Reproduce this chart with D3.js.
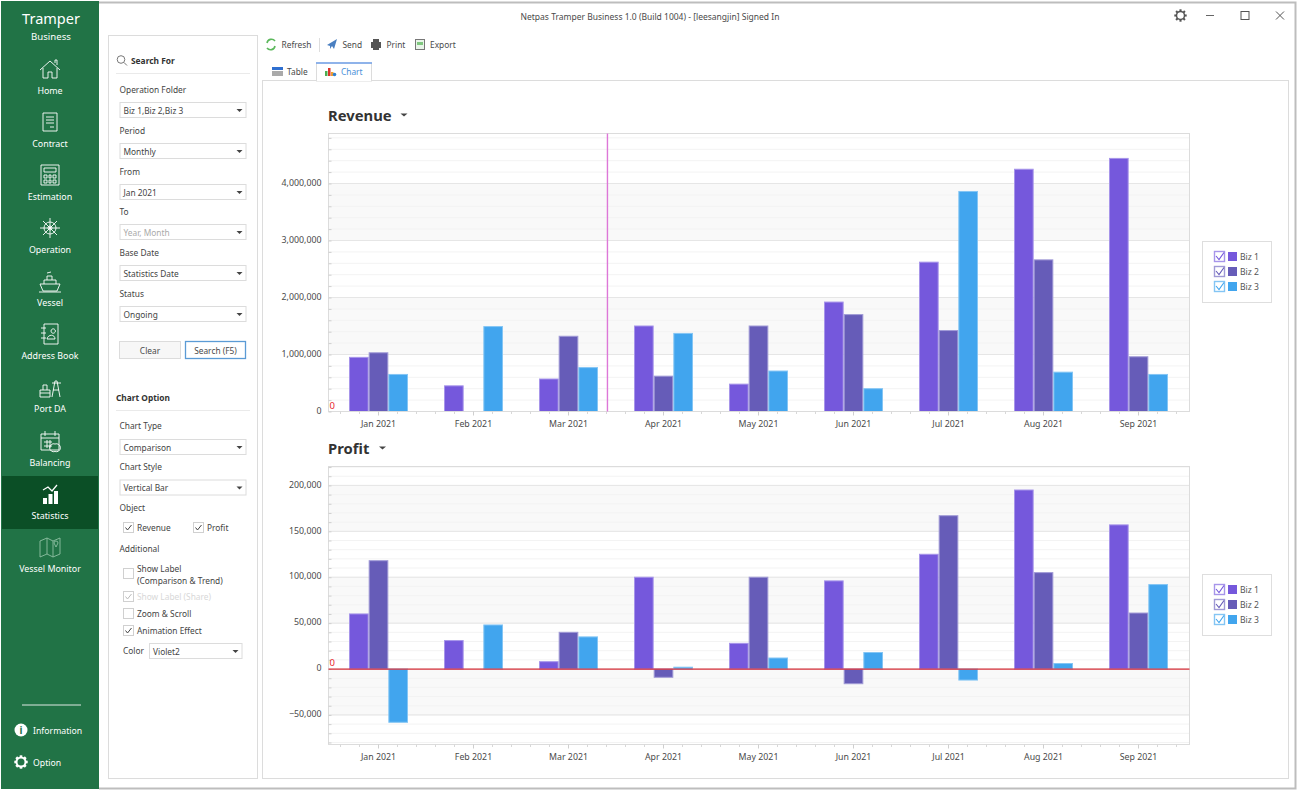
<!DOCTYPE html>
<html><head><meta charset="utf-8">
<style>
html,body{margin:0;padding:0;background:#fff;overflow:hidden}
svg{display:block}
text{font-family:"Noto Sans",sans-serif;font-size:8.35px;fill:#4a4a4a}
</style>
<script src="https://cdn.jsdelivr.net/npm/d3@7/dist/d3.min.js"></script>
</head><body><svg id="app" width="1298" height="791"></svg>
<script>
const categories=["Jan 2021","Feb 2021","Mar 2021","Apr 2021","May 2021","Jun 2021","Jul 2021","Aug 2021","Sep 2021"];
const seriesNames=["Biz 1","Biz 2","Biz 3"];
const revenueBiz1=[950000,450000,570000,1500000,480000,1920000,2620000,4250000,4440000];
const revenueBiz2=[1030000,0,1320000,620000,1500000,1700000,1420000,2660000,960000];
const revenueBiz3=[650000,1490000,770000,1370000,710000,400000,3860000,690000,650000];
const profitBiz1=[60000,31000,8000,100000,28000,96000,125000,195000,157000];
const profitBiz2=[118000,0,40000,-9000,100000,-16000,167000,105000,61000];
const profitBiz3=[-58000,48000,35000,2000,12000,18000,-12000,6000,92000];
const revenueMajorTicks=[0,1000000,2000000,3000000,4000000];
const profitMajorTicks=[-50000,0,50000,100000,150000,200000];
const navItems=["Home","Contract","Estimation","Operation","Vessel","Address Book","Port DA","Balancing","Statistics","Vessel Monitor"];
const searchFields=[["Operation Folder","Biz 1,Biz 2,Biz 3"],["Period","Monthly"],["From","Jan 2021"],["To","Year, Month"],["Base Date","Statistics Date"],["Status","Ongoing"]];
const optionFields=[["Chart Type","Comparison"],["Chart Style","Vertical Bar"]];
const colors=["#7558dc","#665cb8","#41a5ee"];
const strokes=["#a795ea","#a09ad6","#84c5f4"];

const svg=d3.select("#app");
const T=(g,x,y,s,o={})=>{const t=g.append("text").attr("x",x).attr("y",y).text(s);
  for(const k in o)t.style(k,o[k]);return t;};
const R=(g,x,y,w,h,f,st)=>g.append("rect").attr("x",x).attr("y",y).attr("width",w).attr("height",h).attr("fill",f||"none").attr("stroke",st||"none");

/* window frame */
svg.append("path").attr("d","M99 2.5H1295.5V788.5H99").attr("fill","none").attr("stroke","#bdbdbd").attr("stroke-width",2);
T(svg,650,20,"Netpas Tramper Business 1.0 (Build 1004) - [leesangjin] Signed In",{"text-anchor":"middle","font-size":"8.5px"});
const gear=(g,cx,cy,r,col,sw)=>{
  const a=d3.range(8).map(i=>i*Math.PI/4);
  g.append("circle").attr("cx",cx).attr("cy",cy).attr("r",r).attr("fill","none").attr("stroke",col).attr("stroke-width",sw);
  a.forEach(t=>g.append("line").attr("x1",cx+Math.cos(t)*r).attr("y1",cy+Math.sin(t)*r).attr("x2",cx+Math.cos(t)*(r+2.2)).attr("y2",cy+Math.sin(t)*(r+2.2)).attr("stroke",col).attr("stroke-width",sw+.6));
};
gear(svg,1180.5,15.5,4,"#555",1.5);
svg.append("path").attr("d","M1206 15.5H1214").attr("stroke","#666");
R(svg,1241,11.5,8,8,"none","#555");
svg.append("path").attr("d","M1276 11.5l8 8M1284 11.5l-8 8").attr("stroke","#555");

/* sidebar */
const side=svg.append("g");
R(side,1,1,98,788,"#217346");
R(side,2,476,96,53,"#0b4f26");
T(side,51,24,"Tramper",{"text-anchor":"middle","font-size":"14.5px",fill:"#fff"});
T(side,51,40,"Business",{"text-anchor":"middle","font-size":"9.6px",fill:"#fff"});
const iconPaths=[
 "M-10 1L0-8 10 1M-7-1V9H-2V3H2V9H7V-1M5-6V-9H7V-4",
 "M-7-9H7V9H-7ZM-4-5H4M-4-2H4M-4 1H4M0 5H4",
 "M-9-10H9V10H-9ZM-6-7H6V-3H-6ZM-6 0H-3V3H-6ZM-1 0H1V3H-1ZM3 0H6V3H3ZM-6 5H-3V8H-6ZM-1 5H1V8H-1ZM3 5H6V8H3Z",
 "M0-6A6 6 0 1 1 0 6A6 6 0 1 1 0-6ZM0-2A2 2 0 1 1 0 2A2 2 0 1 1 0-2ZM0-10V10M-10 0H10M-7-7L7 7M7-7L-7 7",
 "M-10 3H10L7 10H-7ZM-6 3V-1H6V3M-3-1V-5H2V-1M-3-8L1-9M-11 11H11",
 "M-6-10H8V10H-6ZM-9-6H-4M-9-1H-4M-9 4H-4M1-3A2.2 2.2 0 1 1 1-2.9ZM-3 5C-2 0 5 0 5 5Z",
 "M-10 10H0V3H-10ZM-7 3V-2H-3V3M2 10L5-6H7L10 10M3 3H9M2-4H11M-10 6H0",
 "M-9-7H9V9H-9ZM-9-3H9M-5-10V-5M5-10V-5M-6 1H2M-6 5H2M-3-1V7M0-1V7M5 3A4 4 0 1 1 5 10.5A4 4 0 1 1 5 3",
 null,
 "M-10-6L-3-9 3-6 10-9V7L3 10-3 7-10 10ZM-3-9V7M3-6V10M4-4A2 2 0 1 1 8-4L6 0Z"];
const navG=side.selectAll("g.nav").data(navItems).join("g").attr("class","nav");
navG.each(function(d,i){
  const g=d3.select(this);
  const ly=i<7?91+i*53:(i===7?463:516+(i-8)*53);
  T(g,50,ly+3,d,{"text-anchor":"middle","font-size":"8.9px",fill:"#fff"});
  const cy=ly-22;
  if(iconPaths[i])g.append("path").attr("transform",`translate(50,${cy})`).attr("d",iconPaths[i]).attr("fill","none").attr("stroke",i===9?"#8fbfa3":"#fff").attr("stroke-width",.9);
  else{
    g.append("path").attr("transform",`translate(50,${cy})`).attr("d","M-7 10V4H-3V10ZM-1.5 10V0H2.5V10ZM4 10V-3H8V10Z").attr("fill","#fff");
    g.append("path").attr("transform",`translate(50,${cy})`).attr("d","M-7-4L-2-7 2-3 7-9").attr("fill","none").attr("stroke","#fff").attr("stroke-width",1.3);
  }
});
side.append("line").attr("x1",22).attr("x2",81).attr("y1",705).attr("y2",705).attr("stroke","#dfe9e3");
side.append("circle").attr("cx",21).attr("cy",730).attr("r",6.5).attr("fill","#fff");
T(side,21,733.5,"i",{"text-anchor":"middle","font-size":"10px","font-weight":"700",fill:"#217346"});
T(side,33,734,"Information",{"font-size":"8.7px",fill:"#fff"});
gear(side,21,762,4.5,"#fff",2);
T(side,33,766,"Option",{"font-size":"8.7px",fill:"#fff"});

/* filter panel */
const pan=svg.append("g");
R(pan,108.5,35.5,149,743,"#fff","#dcdcdc");
pan.append("circle").attr("cx",121).attr("cy",59.5).attr("r",3.8).attr("fill","none").attr("stroke","#777");
pan.append("line").attr("x1",124).attr("y1",62.5).attr("x2",127).attr("y2",65.5).attr("stroke","#777");
T(pan,131,64,"Search For",{"font-weight":"700","font-size":"8.4px","fill":"#333"});
pan.append("line").attr("x1",116).attr("x2",250).attr("y1",73.5).attr("y2",73.5).attr("stroke","#eaeaea");
const dropdown=(x,y,w,txt,muted)=>{
  R(pan,x+.5,y+.5,w,15,"#fff","#dcdcdc");
  T(pan,x+4,y+11.5,txt,{fill:muted?"#aaa":"#444"});
  pan.append("path").attr("d",`M${x+w-9} ${y+7}h6l-3 3z`).attr("fill","#444");
};
searchFields.forEach((f,i)=>{
  const y=Math.round(i*40.8);
  T(pan,119.5,93+y,f[0],{fill:"#444"});
  dropdown(119.5,102+y,126,f[1],f[0]==="To");
});
R(pan,119.5,341.5,61,17,"#f7f7f7","#dcdcdc");
T(pan,150,353.5,"Clear",{"text-anchor":"middle"});
R(pan,185.5,341.5,60,17,"#fff","#5b9bd5").attr("stroke-width",1.3);
T(pan,215.5,353.5,"Search (F5)",{"text-anchor":"middle"});
T(pan,116,401,"Chart Option",{"font-weight":"700","fill":"#333"});
pan.append("line").attr("x1",116).attr("x2",250).attr("y1",410.5).attr("y2",410.5).attr("stroke","#eaeaea");
optionFields.forEach((f,i)=>{
  const y=i*40.5;
  T(pan,119.5,429+y,f[0],{fill:"#444"});
  dropdown(119.5,439+y,126,f[1]);
});
T(pan,119.5,511,"Object",{fill:"#444"});
const check=(x,y,on,faded)=>{
  R(pan,x+.5,y+.5,10,10,"#fff","#d0d0d0");
  if(on)pan.append("path").attr("d",`M${x+2.5} ${y+5.5}l2 2.5 4-5`).attr("fill","none").attr("stroke",faded?"#bbb":"#444").attr("stroke-width",1);
};
check(123,522,true);T(pan,137,531,"Revenue",{fill:"#444"});
check(193,522,true);T(pan,207,531,"Profit",{fill:"#444"});
T(pan,119.5,552,"Additional",{fill:"#444"});
check(123,568,false);T(pan,137,572,"Show Label",{fill:"#444"});T(pan,137,584,"(Comparison & Trend)",{fill:"#444"});
check(123,591,true,true);T(pan,137,600,"Show Label (Share)",{fill:"#d8d8d8"});
check(123,608,false);T(pan,137,617,"Zoom & Scroll",{fill:"#444"});
check(123,625,true);T(pan,137,634,"Animation Effect",{fill:"#444"});
T(pan,123,654,"Color",{fill:"#444"});
dropdown(149,643,92.5,"Violet2");

/* toolbar */
const tb=svg.append("g");
tb.append("path").attr("d","M267 43a4.5 4.5 0 0 1 8-2M275 46a4.5 4.5 0 0 1-8 2").attr("fill","none").attr("stroke","#5cb85c").attr("stroke-width",1.6);
T(tb,281.5,48,"Refresh");
tb.append("line").attr("x1",319.5).attr("x2",319.5).attr("y1",38).attr("y2",52).attr("stroke","#ddd");
tb.append("path").attr("d","M327 45l10-6-3 10-2-3-2 3v-3z").attr("fill","#4a7fc1");
T(tb,342.5,48,"Send");
tb.append("path").attr("d","M371 42h2v-3h6v3h2v6h-2v2h-6v-2h-2z").attr("fill","#555");
T(tb,386.5,48,"Print");
R(tb,415.5,39.5,9,10,"#e9f5e9","#777");
R(tb,417,42,6,3,"#7fc77f");
T(tb,430,48,"Export");

/* tabs + chart panel */
R(svg,262.5,80.5,1026,698,"#fff","#dcdcdc");
R(svg,316.5,63,55,18,"#fff","#dcdcdc");
svg.append("line").attr("x1",316).attr("x2",372).attr("y1",63).attr("y2",63).attr("stroke","#6f9fe8").attr("stroke-width",1.6);
svg.append("line").attr("x1",317).attr("x2",371).attr("y1",80.5).attr("y2",80.5).attr("stroke","#fff");
R(svg,272,67,11,3,"#2f6fd0");R(svg,272,71,11,5,"#aaa");
T(svg,287,75,"Table");
R(svg,325,71,2.5,5,"#4caf50");R(svg,328,68,2.5,8,"#d9342b");R(svg,331,72,2.5,4,"#f0a030");
svg.append("circle").attr("cx",334.5).attr("cy",74.5).attr("r",1.8).attr("fill","#2f7fd0");
T(svg,341,75,"Chart",{fill:"#4a90d9"});

/* charts */
function chart(cfg){
  const g=svg.append("g");
  const L=328.5,Rt=1189.5;
  const y=d3.scaleLinear().domain(cfg.domain).range([cfg.bottom,cfg.top]);
  const x=d3.scaleBand().domain(categories).range([331,1186]);
  const ser=d3.scaleBand().domain(seriesNames).range([0,59]).paddingInner(0.0);
  const idx=d3.scaleLinear().domain([0,categories.length-1]).range([x(categories[0])+x.bandwidth()/2,x(categories[8])+x.bandwidth()/2]);
  const step=cfg.major[1]-cfg.major[0];
  // alternating stripes
  const edges=d3.range(cfg.stripeStart,cfg.domain[1],step);
  edges.forEach((v,i)=>{ if(i%2===0){
    const top=Math.min(v+step,cfg.domain[1]);
    g.append("rect").attr("x",L).attr("width",Rt-L).attr("y",y(top)).attr("height",y(Math.max(v,cfg.domain[0]))-y(top)).attr("fill","#f9f9f9");
  }});
  if(cfg.stripeBelow!==undefined){
    g.append("rect").attr("x",L).attr("width",Rt-L).attr("y",y(cfg.stripeBelow)).attr("height",y(cfg.stripeBelow-step)-y(cfg.stripeBelow)).attr("fill","#f9f9f9");
  }
  // grid
  const minor=d3.range(Math.ceil(cfg.domain[0]/cfg.minor)*cfg.minor,cfg.domain[1],cfg.minor);
  g.selectAll("line.mn").data(minor).join("line").attr("x1",L).attr("x2",Rt).attr("y1",d=>y(d)).attr("y2",d=>y(d)).attr("stroke","#f3f3f3");
  g.selectAll("line.mj").data(cfg.major).join("line").attr("x1",L).attr("x2",Rt).attr("y1",d=>y(d)).attr("y2",d=>y(d)).attr("stroke","#e6e6e6");
  // bars
  cfg.series.forEach((vals,s)=>{
    g.selectAll(null).data(vals.map((v,i)=>({v,c:categories[i]})).filter(d=>d.v!==0)).join("rect")
      .attr("x",d=>x(d.c)+x.bandwidth()/2-29.5+ser(seriesNames[s])+.5)
      .attr("width",ser.bandwidth()-1)
      .attr("y",d=>y(Math.max(d.v,0)))
      .attr("height",d=>Math.abs(y(d.v)-y(0)))
      .attr("fill",colors[s]).attr("stroke",strokes[s]).attr("stroke-width",1);
  });
  // axes frame
  R(g,L,cfg.top,Rt-L,cfg.bottom-cfg.top,"none","#dcdcdc");
  // y axis
  const ya=g.append("g").attr("transform",`translate(${L},0)`).call(d3.axisLeft(y).tickValues(cfg.major).tickFormat(d3.format(",")).tickSize(0).tickPadding(7));
  ya.select(".domain").remove();
  ya.selectAll("text").attr("dy","0.2em").style("font-family",'"Noto Sans",sans-serif').style("font-size","8.8px").style("fill","#4a4a4a");
  const ym=g.append("g").attr("transform",`translate(${L},0)`).call(d3.axisRight(y).tickValues(minor).tickFormat("").tickSize(3));
  ym.select(".domain").remove();ym.selectAll("line").attr("stroke","#cfcfcf");
  // x axis
  const xa=g.append("g").attr("transform",`translate(0,${cfg.bottom})`).call(d3.axisBottom(x).tickSize(5).tickPadding(4));
  xa.select(".domain").remove();xa.selectAll("line").attr("stroke","#cfcfcf").attr("y2",4);
  xa.selectAll("text").style("font-family",'"Noto Sans",sans-serif').style("font-size","8.8px").style("fill","#4a4a4a");
  const fine=d3.range(-0.4,8.41,0.2).filter(v=>Math.abs(v-Math.round(v))>1e-6);
  g.selectAll(null).data(fine).join("line").attr("x1",d=>idx(d)).attr("x2",d=>idx(d)).attr("y1",cfg.bottom).attr("y2",cfg.bottom+2.5).attr("stroke","#d8d8d8");
  // zero marker
  T(g,329.5,y(0)-cfg.zeroOffset,"0",{fill:"#e8262c","font-size":"9.5px"});
  if(cfg.zeroLine)g.append("line").attr("x1",L).attr("x2",Rt).attr("y1",y(0)).attr("y2",y(0)).attr("stroke","#d9303a").attr("stroke-width",1.2);
  if(cfg.cursor!==undefined)g.append("line").attr("x1",idx(cfg.cursor)).attr("x2",idx(cfg.cursor)).attr("y1",cfg.top).attr("y2",cfg.bottom).style("stroke","#dd77d8").style("stroke-width","1.4px");
  // title
  T(g,L-.5,cfg.top-13,cfg.title,{"font-size":"14.8px","font-weight":"700",fill:"#333"});
  g.append("path").attr("d",`M${cfg.caretX} ${cfg.top-20}h7l-3.5 3z`).attr("fill","#444");
  // legend
  R(g,1202.5,cfg.legendTop+.5,69,61,"#fff","#dedede");
  seriesNames.forEach((n,s)=>{
    const cy=cfg.legendTop+16+s*15;
    R(g,1214.5,cy-5.5,10,10,"#fff",strokes[s]).attr("stroke-width",1.4);
    g.append("path").attr("d",`M${1216} ${cy-1}l3 3.5 5-7`).attr("fill","none").attr("stroke",colors[s]).attr("stroke-width",1.1);
    R(g,1228,cy-5,9,9,colors[s]);
    T(g,1240,cy+3,n,{fill:"#555","font-size":"8.6px"});
  });
}
chart({title:"Revenue",top:133.5,bottom:411.5,domain:[0,4877000],major:revenueMajorTicks,minor:200000,
  stripeStart:1000000,series:[revenueBiz1,revenueBiz2,revenueBiz3],zeroOffset:3,cursor:2.41,caretX:400.5,legendTop:241});
chart({title:"Profit",top:466.5,bottom:744.5,domain:[-82200,220600],major:profitMajorTicks,minor:10000,
  stripeStart:50000,stripeBelow:0,series:[profitBiz1,profitBiz2,profitBiz3],zeroOffset:3,zeroLine:true,caretX:379,legendTop:574});
</script></body></html>
